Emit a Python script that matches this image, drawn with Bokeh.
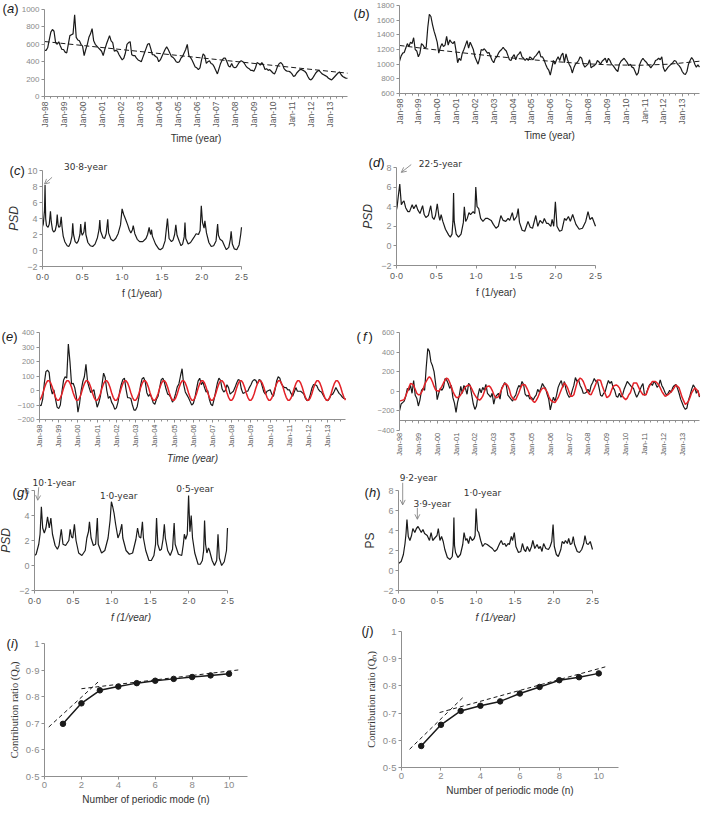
from math import pi
from bokeh.plotting import figure
from bokeh.layouts import column, row
from bokeh.models import Range1d, FixedTicker, Label, Arrow, OpenHead
from bokeh.embed import file_html
from bokeh.resources import INLINE

# ---------------- data ----------------
months = list(range(192))
time_ticks = [0, 12, 24, 36, 48, 60, 72, 84, 96, 108, 120, 132, 144, 156, 168, 180]
time_labels = ["Jan-98", "Jan-99", "Jan-00", "Jan-01", "Jan-02", "Jan-03", "Jan-04", "Jan-05",
               "Jan-06", "Jan-07", "Jan-08", "Jan-09", "Jan-10", "Jan-11", "Jan-12", "Jan-13"]
time_minor = list(range(0, 192, 4))

a_vals = [530, 530, 560, 650, 740, 770, 750, 620, 600, 630, 580, 540,
          540, 510, 500, 600, 700, 710, 720, 940, 680, 650, 640, 600,
          580, 470, 540, 600, 680, 720, 780, 640, 600, 580, 560, 540,
          520, 470, 540, 600, 650, 700, 640, 620, 520, 530, 520, 480,
          450, 420, 440, 500, 600, 620, 630, 480, 470, 470, 440, 420,
          410, 400, 450, 500, 550, 600, 610, 550, 480, 480, 460, 450,
          400, 420, 460, 500, 540, 570, 540, 500, 460, 450, 430, 400,
          390, 400, 440, 460, 500, 540, 600, 470, 450, 420, 380, 340,
          330, 310, 330, 420, 490, 470, 380, 400, 410, 380, 370, 340,
          300, 260, 320, 380, 420, 440, 440, 400, 350, 340, 380, 340,
          330, 340, 370, 400, 410, 400, 380, 350, 330, 320, 300, 300,
          290, 330, 390, 380, 360, 390, 360, 310, 320, 300, 310, 290,
          270, 260, 300, 350, 380, 390, 370, 320, 300, 290, 290, 280,
          260, 230, 240, 270, 290, 310, 310, 300, 290, 270, 230, 200,
          190, 210, 240, 270, 290, 300, 280, 260, 250, 240, 230, 210,
          200, 190, 210, 230, 250, 270, 280, 250, 230, 220, 210, 210]
trend_a_x = [0, 191]
trend_a_y = [632, 268]

b_vals = [1040, 1110, 1150, 1160, 1220, 1280, 1240, 1300, 1280, 1360, 1200, 1180,
          1100, 1150, 1280, 1260, 1220, 1230, 1500, 1680, 1650, 1540, 1450, 1380,
          1300, 1150, 1230, 1280, 1240, 1260, 1380, 1260, 1330, 1300, 1280, 1310,
          1180, 1020, 1080, 1050, 1150, 1200, 1260, 1320, 1220, 1300, 1250, 1200,
          1100, 1050, 1000, 1080, 1200, 1190, 1210, 1180, 1150, 1160, 1100, 1050,
          1020, 1080, 1100, 1150, 1180, 1200, 1230, 1200, 1180, 1120, 1060, 1050,
          1100, 1130, 1060, 1120, 1140, 1170, 1100, 1080, 1050, 1080, 1050, 1100,
          1080, 1060, 1100, 1120, 1150, 1180, 1100, 1100, 1060, 1000, 950, 920,
          850, 950, 1050, 1000, 1060, 1100, 1050, 1120, 1150, 1020, 1140, 1060,
          1000, 960, 880, 950, 1000, 1020, 1050, 1100, 1080, 1000, 960, 980,
          1000, 1060, 950, 970, 980, 1000, 1050, 1030, 1000, 1040, 1060, 1080,
          1020, 1080, 1050, 1000, 980, 950, 920, 900, 1000, 1040, 1060, 1080,
          1050, 1020, 980, 1000, 960, 950, 900, 850, 880, 1000, 1050, 1080,
          1050, 1030, 1000, 980, 950, 980, 1000, 1050, 1060, 1080, 1060, 1100,
          950, 900, 930, 960, 980, 1000, 1020, 1050, 1040, 1000, 980, 950,
          900, 870, 860, 900, 1000, 1050, 1090, 1060, 1000, 960, 990, 960]
trend_b_x = [0, 19, 38, 57, 76, 96, 115, 134, 153, 172, 191]
trend_b_y = [1255, 1205, 1160, 1115, 1075, 1040, 1010, 990, 985, 1000, 1040]

c_pts = [(0.0, 3.0), (0.01, 3.3), (0.025, 5.0), (0.032, 8.2), (0.04, 4.0), (0.05, 3.1), (0.07, 2.9),
         (0.085, 3.3), (0.10, 4.9), (0.11, 3.6), (0.125, 2.6), (0.14, 2.3), (0.16, 2.5), (0.175, 3.2),
         (0.185, 4.5), (0.195, 3.3), (0.205, 2.9), (0.22, 3.0), (0.235, 4.2), (0.245, 3.0), (0.26, 1.8),
         (0.28, 1.1), (0.31, 0.6), (0.33, 0.5), (0.35, 0.9), (0.37, 1.8), (0.38, 3.4), (0.39, 2.0),
         (0.41, 1.1), (0.43, 0.9), (0.45, 1.2), (0.47, 2.0), (0.48, 3.3), (0.49, 2.2), (0.50, 1.9),
         (0.52, 2.3), (0.535, 3.6), (0.545, 2.0), (0.57, 1.0), (0.60, 0.6), (0.63, 0.5), (0.66, 0.8),
         (0.69, 1.6), (0.71, 2.6), (0.72, 3.8), (0.73, 2.4), (0.76, 1.6), (0.78, 1.5), (0.80, 2.1),
         (0.82, 3.9), (0.83, 2.2), (0.86, 1.4), (0.89, 1.2), (0.92, 1.5), (0.95, 2.1), (0.98, 3.2),
         (1.0, 5.2), (1.02, 4.5), (1.04, 4.0), (1.07, 3.2), (1.09, 2.6), (1.11, 2.2), (1.13, 2.6),
         (1.14, 3.1), (1.16, 2.1), (1.19, 1.4), (1.22, 1.1), (1.26, 1.1), (1.30, 1.5), (1.32, 2.0),
         (1.34, 2.9), (1.35, 2.3), (1.36, 2.0), (1.37, 2.6), (1.38, 1.8), (1.42, 0.8), (1.46, 0.2),
         (1.48, 0.1), (1.51, 0.3), (1.54, 1.2), (1.57, 4.0), (1.59, 1.5), (1.62, 1.1), (1.64, 1.3),
         (1.66, 2.0), (1.675, 3.2), (1.69, 1.9), (1.72, 1.1), (1.74, 0.6), (1.76, 0.8), (1.78, 1.7),
         (1.79, 3.5), (1.80, 1.5), (1.83, 0.8), (1.86, 1.0), (1.90, 1.6), (1.93, 2.1), (1.96, 2.0),
         (1.98, 2.5), (1.995, 5.6), (2.01, 3.5), (2.03, 2.8), (2.04, 3.7), (2.06, 2.2), (2.09, 1.0),
         (2.12, 0.5), (2.15, 0.6), (2.18, 1.2), (2.20, 3.3), (2.21, 1.9), (2.23, 1.4), (2.26, 1.2),
         (2.29, 0.5), (2.31, 0.1), (2.34, 0.4), (2.36, 1.4), (2.37, 2.4), (2.385, 0.8), (2.41, 0.2),
         (2.44, 0.1), (2.47, 0.7), (2.49, 2.0), (2.50, 2.9)]

d_pts = [(0.0, 3.7), (0.008, 4.0), (0.02, 4.9), (0.041, 6.3), (0.061, 4.2), (0.082, 4.5), (0.094, 4.6),
         (0.115, 3.9), (0.143, 3.5), (0.164, 3.5), (0.197, 4.2), (0.217, 3.8), (0.246, 4.2), (0.266, 3.7),
         (0.295, 3.3), (0.328, 4.1), (0.348, 3.2), (0.369, 2.9), (0.40, 3.1), (0.43, 4.1), (0.451, 2.9),
         (0.471, 2.7), (0.49, 3.1), (0.512, 4.3), (0.533, 3.0), (0.545, 2.6), (0.561, 3.2), (0.582, 2.5),
         (0.615, 1.7), (0.656, 1.1), (0.676, 0.9), (0.697, 1.2), (0.709, 2.5), (0.717, 5.4), (0.725, 2.5),
         (0.75, 1.2), (0.779, 0.9), (0.811, 1.2), (0.84, 2.4), (0.852, 4.0), (0.869, 2.5), (0.889, 2.8),
         (0.91, 3.4), (0.93, 3.2), (0.963, 3.5), (0.984, 3.3), (0.996, 6.0), (1.012, 4.0), (1.033, 3.8),
         (1.057, 2.8), (1.086, 2.5), (1.119, 2.8), (1.148, 2.8), (1.189, 2.6), (1.217, 2.2), (1.25, 1.8),
         (1.279, 2.0), (1.311, 3.1), (1.34, 2.6), (1.373, 2.5), (1.402, 2.8), (1.422, 2.6), (1.455, 3.4),
         (1.475, 2.6), (1.51, 3.0), (1.529, 3.8), (1.545, 2.4), (1.578, 1.6), (1.611, 1.5), (1.652, 2.5),
         (1.68, 1.9), (1.709, 1.8), (1.75, 3.1), (1.775, 2.0), (1.803, 2.6), (1.836, 2.3), (1.857, 2.8),
         (1.885, 2.3), (1.906, 2.3), (1.939, 2.0), (1.955, 2.7), (1.975, 2.0), (1.996, 4.5), (2.016, 2.0),
         (2.049, 1.5), (2.078, 1.6), (2.111, 2.8), (2.131, 2.6), (2.16, 3.0), (2.184, 2.5), (2.213, 3.2),
         (2.254, 2.2), (2.295, 1.7), (2.336, 1.8), (2.377, 2.5), (2.406, 3.5), (2.43, 2.7), (2.459, 2.9),
         (2.5, 2.0)]

e_black = [-100, -105, -60, 50, 130, 140, 125, 20, -25, 5, -60, -115,
           -125, -100, -10, 70, 95, 85, 320, 200, 45, 50, 20, -40,
           -150, -90, 0, 60, 95, 180, 60, 20, -15, -5, 5, -60,
           -115, -85, -40, 40, 120, 90, 0, -55, -40, -80, -100, -130,
           -120, -80, -10, 40, 75, 85, 10, -50, -50, -55, -100, -135,
           -135, -110, -50, 30, 80, 90, 60, -15, -40, -25, -50, -85,
           -95, -60, -40, 20, 75, 85, 55, 10, -25, -30, -50, -80,
           -60, -20, 25, 45, 100, 150, 40, -10, -30, -50, -75, -100,
           -90, -50, 10, 65, 85, 40, 60, 20, -10, 0, -60, -95,
           -105, -60, -5, 50, 85, 70, 10, -10, 0, 40, 20, -25,
           -15, -5, 20, 50, 75, 70, 10, -20, -15, -5, -5, 20,
           40, 65, 75, 70, 45, 75, 70, 30, -10, -25, -5, 0,
           5, -25, -40, 5, 65, 95, 85, 45, 30, 20, 20, 5,
           5, -20, -40, -10, 20, -5, -5, -5, -15, -25, -55, -70,
           -65, -30, 15, 40, 40, 35, 10, -5, -10, -30, -50, -65,
           -70, -55, -30, -25, -5, 20, 0, -20, -30, -45, -55, -55]
e_red = [-68, -52, -22, 15, 47, 67, 68, 52, 22, -15, -47, -67,
         -68, -52, -22, 15, 47, 67, 68, 52, 22, -15, -47, -67,
         -68, -52, -22, 15, 47, 67, 68, 52, 22, -15, -47, -67,
         -68, -52, -22, 15, 47, 67, 68, 52, 22, -15, -47, -67,
         -68, -52, -22, 15, 47, 67, 68, 52, 22, -15, -47, -67,
         -68, -52, -22, 15, 47, 67, 68, 52, 22, -15, -47, -67,
         -68, -52, -22, 15, 47, 67, 68, 52, 22, -15, -47, -67,
         -68, -52, -22, 15, 47, 67, 68, 52, 22, -15, -47, -67,
         -68, -52, -22, 15, 47, 67, 68, 52, 22, -15, -47, -67,
         -68, -52, -22, 15, 47, 67, 68, 52, 22, -15, -47, -67,
         -68, -52, -22, 15, 47, 67, 68, 52, 22, -15, -47, -67,
         -68, -52, -22, 15, 47, 67, 68, 52, 22, -15, -47, -67,
         -68, -52, -22, 15, 47, 67, 68, 52, 22, -15, -47, -67,
         -68, -52, -22, 15, 47, 67, 68, 52, 22, -15, -47, -67,
         -68, -52, -22, 15, 47, 67, 68, 52, 22, -15, -47, -67,
         -68, -52, -22, 15, 47, 67, 68, 52, 22, -15, -47, -67]

f_black = [-200, -130, -115, -100, -50, 30, 10, 60, -20, 110, -40, -70,
           -150, -90, 10, 30, 10, 240, 435, 410, 300, 260, 200, 80,
           -85, -20, 30, 10, 40, 130, 115, 80, 30, 60, -65, -120,
           -215, -110, -50, 50, -20, 60, 30, -30, 80, 60, -40, -130,
           -185, -150, -40, 30, -15, 40, 10, 70, -20, -40, -60, -20,
           -130, -60, -40, -20, -80, 30, 60, 90, 60, -40, -60, -80,
           -100, -60, -40, 20, 60, 40, 100, 70, -30, -50, -40, -80,
           -60, -90, -60, -40, 20, -10, 30, 80, 50, 30, -30, -80,
           -190, -120, -60, -100, -40, 40, 80, 110, 40, 100, 20, -30,
           -60, -50, 10, 60, 140, 100, 120, 60, 30, -20, -20, -10,
           20, -10, 60, 90, 130, 100, 110, 40, -40, -50, -20, 0,
           60, 110, 80, 100, 40, 10, -50, -60, -20, -60, -40, 20,
           60, 100, 80, 60, 40, 30, -20, -60, -30, 10, 50, 80,
           -40, -30, 20, 60, 80, 60, 100, 80, 40, 60, 115, 60,
           30, -10, -40, -20, 10, -10, 40, 60, 70, 30, -20, -80,
           -120, -160, -185, -170, -90, -40, 20, 65, 40, -20, 10, -60]
f_red = [-100, -95, -90, -85, -45, -5, 40, 80, 75, 60, 20, -20,
         -35, -35, -10, 20, 70, 100, 130, 150, 130, 95, 50, 15,
         5, 0, 25, 50, 85, 115, 135, 125, 90, 45, 0, -35,
         -60, -65, -55, -35, -5, 20, 45, 55, 65, 55, 25, -10,
         -40, -65, -80, -90, -75, -50, -5, 35, 50, 55, 40, 10,
         -30, -60, -65, -55, -20, 20, 55, 80, 75, 55, 15, -45,
         -70, -85, -85, -50, -15, 30, 65, 70, 65, 35, 0, -45,
         -80, -100, -115, -95, -65, -25, 10, 30, 35, 20, -5, -50,
         -85, -100, -110, -115, -90, -65, -25, 15, 55, 85, 65, 35,
         -10, -50, -50, -35, 25, 85, 115, 135, 125, 100, 60, 15,
         -10, -30, -35, 0, 35, 75, 115, 115, 110, 60, 15, -25,
         -65, -55, -35, 10, 50, 60, 65, 55, 35, -10, -50, -70,
         -85, -70, -35, -15, 35, 85, 85, 85, 50, 15, -10, -35,
         -35, -35, 10, 50, 75, 100, 100, 100, 85, 65, 35, 0,
         -25, -50, -45, -35, -20, -5, 15, 40, 65, 50, 35, -15,
         -65, -100, -135, -120, -100, -60, -15, 10, 35, 20, 0, -50]

g_pts = [(0.0, 0.8), (0.021, 0.9), (0.055, 1.7), (0.072, 2.5), (0.089, 4.7), (0.106, 3.0), (0.127, 2.6),
         (0.148, 3.0), (0.169, 3.9), (0.191, 3.0), (0.212, 3.8), (0.233, 2.5), (0.267, 1.6), (0.297, 1.3),
         (0.318, 1.6), (0.347, 2.9), (0.369, 1.7), (0.403, 1.6), (0.445, 2.0), (0.462, 2.9), (0.479, 2.3),
         (0.496, 2.2), (0.517, 3.3), (0.538, 2.0), (0.572, 1.0), (0.614, 0.8), (0.657, 1.2), (0.678, 2.2),
         (0.699, 2.7), (0.712, 3.5), (0.733, 2.2), (0.763, 1.6), (0.792, 1.7), (0.814, 3.8), (0.826, 1.7),
         (0.869, 1.0), (0.911, 1.2), (0.953, 2.2), (0.979, 3.6), (0.996, 5.1), (1.013, 4.7), (1.03, 4.2),
         (1.051, 3.3), (1.081, 2.2), (1.106, 2.6), (1.131, 3.3), (1.144, 2.2), (1.186, 1.2), (1.229, 0.9),
         (1.271, 1.0), (1.314, 2.1), (1.335, 3.0), (1.356, 2.3), (1.377, 2.2), (1.398, 3.5), (1.411, 2.2),
         (1.441, 1.2), (1.483, 0.4), (1.513, 0.4), (1.547, 0.8), (1.568, 1.7), (1.581, 3.8), (1.597, 1.7),
         (1.623, 1.2), (1.644, 1.3), (1.665, 2.1), (1.682, 3.3), (1.695, 2.2), (1.725, 1.2), (1.758, 0.8),
         (1.788, 1.3), (1.809, 3.4), (1.822, 1.7), (1.864, 0.9), (1.907, 0.8), (1.928, 1.7), (1.941, 2.5),
         (1.958, 2.1), (1.979, 2.5), (1.996, 5.6), (2.013, 2.7), (2.03, 4.0), (2.047, 2.2), (2.076, 1.0),
         (2.119, 0.1), (2.148, 0.1), (2.174, 0.4), (2.191, 1.2), (2.203, 3.6), (2.216, 1.7), (2.233, 1.0),
         (2.254, 1.4), (2.267, 1.2), (2.301, 0.4), (2.331, 0.0), (2.36, 0.4), (2.377, 2.5), (2.394, 0.6),
         (2.424, 0.0), (2.458, 0.3), (2.487, 1.2), (2.5, 3.0)]

h_pts = [(0.0, 0.7), (0.034, 0.9), (0.063, 1.6), (0.084, 2.7), (0.097, 3.7), (0.109, 5.1), (0.126, 3.4),
         (0.147, 3.0), (0.168, 3.5), (0.185, 4.2), (0.21, 3.8), (0.231, 4.2), (0.252, 4.4), (0.273, 4.1),
         (0.294, 3.8), (0.315, 4.1), (0.336, 3.7), (0.37, 3.5), (0.399, 3.0), (0.42, 3.8), (0.441, 3.0),
         (0.462, 3.2), (0.496, 3.5), (0.513, 4.2), (0.534, 3.0), (0.555, 3.4), (0.576, 2.9), (0.597, 2.1),
         (0.63, 1.3), (0.664, 1.1), (0.693, 1.4), (0.705, 2.5), (0.714, 5.3), (0.722, 2.5), (0.735, 1.8),
         (0.765, 1.3), (0.798, 1.6), (0.828, 2.6), (0.845, 3.8), (0.866, 3.0), (0.882, 3.2), (0.903, 2.7),
         (0.924, 3.4), (0.95, 3.0), (0.975, 3.2), (0.987, 3.5), (1.0, 6.2), (1.017, 4.0), (1.034, 3.8),
         (1.059, 3.0), (1.084, 2.4), (1.113, 2.7), (1.143, 2.6), (1.176, 2.4), (1.21, 2.2), (1.239, 1.9),
         (1.269, 2.1), (1.303, 2.7), (1.324, 3.0), (1.345, 2.6), (1.37, 2.7), (1.387, 2.4), (1.412, 2.7),
         (1.429, 2.6), (1.454, 3.4), (1.471, 3.0), (1.492, 3.8), (1.513, 2.4), (1.546, 1.8), (1.576, 1.9),
         (1.597, 2.7), (1.618, 2.1), (1.639, 1.9), (1.66, 2.4), (1.689, 1.9), (1.714, 2.4), (1.731, 3.0),
         (1.756, 2.2), (1.786, 2.6), (1.807, 2.2), (1.828, 2.4), (1.849, 1.9), (1.87, 2.7), (1.899, 2.2),
         (1.933, 2.1), (1.954, 2.4), (1.975, 2.9), (1.992, 4.6), (2.008, 2.4), (2.034, 1.6), (2.059, 1.4),
         (2.092, 2.1), (2.109, 2.9), (2.134, 2.7), (2.151, 3.0), (2.176, 2.7), (2.193, 3.2), (2.214, 2.6),
         (2.235, 2.7), (2.252, 3.4), (2.269, 2.6), (2.303, 1.9), (2.332, 1.8), (2.361, 2.1), (2.387, 2.7),
         (2.403, 3.5), (2.424, 2.7), (2.445, 2.6), (2.471, 2.9), (2.5, 2.1)]

psd_f_ticks = [0, 0.5, 1.0, 1.5, 2.0, 2.5]
psd_f_labels = ["0·0", "0·5", "1·0", "1·5", "2·0", "2·5"]

n_modes = [1, 2, 3, 4, 5, 6, 7, 8, 9, 10]
q_i = [0.698, 0.775, 0.824, 0.838, 0.851, 0.860, 0.867, 0.874, 0.880, 0.886]
q_j = [0.579, 0.657, 0.708, 0.727, 0.743, 0.772, 0.796, 0.821, 0.832, 0.846]
fit1_i_x, fit1_i_y = [0.23, 2.9], [0.686, 0.855]
fit2_i_x, fit2_i_y = [2.0, 10.56], [0.830, 0.901]
fit1_j_x, fit1_j_y = [0.41, 3.11], [0.567, 0.757]
fit2_j_x, fit2_j_y = [1.93, 10.33], [0.702, 0.870]
n_ticks = [0, 2, 4, 6, 8, 10]
q_ticks = [0.5, 0.6, 0.7, 0.8, 0.9, 1.0]
q_labels = ["0·5", "0·6", "0·7", "0·8", "0·9", "1"]

# ---------------- style helpers ----------------
AX = "#8f8f8f"
TXT = "#8a8a8a"
LBL = "#333333"
SANS = "Liberation Sans"
INK = "#1a1a1a"
RED = "#e32228"
PX = {}   # per-figure data units per pixel, used to place the panel tags


def make(w, h, L, R, T, B, xr, yr, x_axis_at=None):
    """Frame fills the whole figure; the data box sits L/R/T/B px inside it,
    axes are pinned to the data box so that nothing outside it gets clipped."""
    x0, x1 = xr
    y0, y1 = yr
    sx = (x1 - x0) / (w - L - R)
    sy = (y1 - y0) / (h - T - B)
    p = figure(width=w, height=h, output_backend="svg", toolbar_location=None,
               x_range=Range1d(x0 - L * sx, x1 + R * sx),
               y_range=Range1d(y0 - B * sy, y1 + T * sy),
               min_border=0)
    PX[p.id] = (x0, y1, sx, sy)
    p.outline_line_color = None
    p.xgrid.visible = False
    p.ygrid.visible = False
    p.xaxis.fixed_location = y0 if x_axis_at is None else x_axis_at
    p.xaxis.bounds = (x0, x1)
    p.yaxis.fixed_location = x0
    p.yaxis.bounds = (y0, y1)
    for ax in (p.xaxis[0], p.yaxis[0]):
        ax.axis_line_color = AX
        ax.major_tick_line_color = AX
        ax.minor_tick_line_color = None
        ax.major_tick_in = 0
        ax.major_tick_out = 3
        ax.major_label_text_font = SANS
        ax.major_label_text_color = TXT
        ax.major_label_text_font_size = "9px"
        ax.major_label_standoff = 2
        ax.axis_label_text_font = SANS
        ax.axis_label_text_color = LBL
        ax.axis_label_text_font_style = "normal"
        ax.axis_label_text_font_size = "10px"
        ax.axis_label_standoff = 3
    return p


def yticks(p, ticks, size="9px"):
    ax = p.yaxis[0]
    ax.ticker = FixedTicker(ticks=ticks)
    ax.major_label_overrides = {t: ("\u2212" + str(abs(t)) if t < 0 else str(t)) for t in ticks}
    ax.major_label_text_font_size = size


def time_axis(p, size):
    ax = p.xaxis[0]
    ax.ticker = FixedTicker(ticks=time_ticks, minor_ticks=time_minor)
    ax.major_label_overrides = dict(zip(time_ticks, time_labels))
    ax.major_label_orientation = pi / 2
    ax.minor_tick_line_color = AX
    ax.minor_tick_in = 0
    ax.minor_tick_out = 2
    ax.major_label_text_font_size = size
    ax.major_label_text_color = "#5a5a5a"


def psd_axis(p):
    ax = p.xaxis[0]
    ax.ticker = FixedTicker(ticks=psd_f_ticks)
    ax.major_label_overrides = dict(zip(psd_f_ticks, psd_f_labels))
    ax.major_label_text_color = "#5a5a5a"


LW = {"a": 7.2, "b": 7.2, "c": 6.5, "d": 7.2, "e": 7.2, "f": 3.6, "g": 7.2, "h": 7.2, "i": 2.9, "j": 3.2}


def tag(p, letter, dx, dy, pad=0.0):
    """Panel tag; dx/dy are pixel offsets of its left/middle from the data box's top-left (dy down)."""
    x0, y1, sx, sy = PX[p.id]
    parts = [("(", dx, "normal"), (letter, dx + 4.5 + pad, "italic"),
             (")", dx + 4.5 + 2 * pad + LW[letter], "normal")]
    for txt, off, style in parts:
        p.add_layout(Label(x=x0 + off * sx, y=y1 - dy * sy, text=txt, text_font=SANS,
                           text_font_size="13px", text_font_style=style,
                           text_baseline="middle", text_align="left", text_color=INK))


def note(p, x, y, text, align="left"):
    p.add_layout(Label(x=x, y=y, text=text, text_font="DejaVu Sans", text_font_size="9px",
                       text_color="#333333", text_align=align, text_baseline="middle"))


def arrow(p, x0, y0, x1, y1):
    p.add_layout(Arrow(end=OpenHead(size=5, line_color="#777777", line_width=0.8),
                       x_start=x0, y_start=y0, x_end=x1, y_end=y1,
                       line_color="#777777", line_width=0.8))


# ---------------- row 1 ----------------
pa = make(352, 147, 44, 5, 9, 51, (0, 191), (0, 1000))
pa.line(months, a_vals, color=INK, line_width=1.2)
pa.line(trend_a_x, trend_a_y, color=INK, line_width=1, line_dash="5 3")
time_axis(pa, "8.5px")
yticks(pa, [0, 200, 400, 600, 800, 1000], "8px")
pa.xaxis.axis_label = "Time (year)"
tag(pa, "a", -42, -1)

pb = make(352, 147, 47, 5, 5, 54, (0, 191), (600, 1800))
pb.line(months, b_vals, color=INK, line_width=1.2)
pb.line(trend_b_x, trend_b_y, color=INK, line_width=1, line_dash="5 3")
time_axis(pb, "8.5px")
yticks(pb, [600, 800, 1000, 1200, 1400, 1600, 1800], "8px")
pb.xaxis.axis_label = "Time (year)"
tag(pb, "b", -46, 8)

# ---------------- row 2 ----------------
pc = make(352, 157, 42, 111, 23, 38, (0, 2.5), (-2, 10))
pc.line([q[0] for q in c_pts], [q[1] for q in c_pts], color=INK, line_width=1.2)
psd_axis(pc)
yticks(pc, [-2, 0, 2, 4, 6, 8, 10])
pc.xaxis.axis_label = "f (1/year)"
pc.yaxis.axis_label = "PSD"
pc.yaxis.axis_label_text_font_style = "italic"
pc.yaxis.axis_label_text_font_size = "12px"
note(pc, 0.27, 10.4, "30·8-year")
arrow(pc, 0.12, 9.15, 0.025, 8.3)
tag(pc, "c", -33, 0)

pd_ = make(352, 157, 44, 109, 20, 39, (0, 2.5), (-2, 8))
pd_.line([q[0] for q in d_pts], [q[1] for q in d_pts], color=INK, line_width=1.2)
psd_axis(pd_)
yticks(pd_, [-2, 0, 2, 4, 6, 8])
pd_.xaxis.axis_label = "f (1/year)"
pd_.yaxis.axis_label = "PSD"
pd_.yaxis.axis_label_text_font_style = "italic"
pd_.yaxis.axis_label_text_font_size = "12px"
note(pd_, 0.28, 8.4, "22·5-year")
arrow(pd_, 0.185, 8.3, 0.06, 7.5)
tag(pd_, "d", -28, -5)

# ---------------- row 3 ----------------
pe = make(352, 165, 39, 7, 28, 50, (0, 191), (-200, 400))
pe.line(months, e_black, color=INK, line_width=1.2)
pe.line(months, e_red, color=RED, line_width=1.5)
time_axis(pe, "7.5px")
yticks(pe, [-200, -100, 0, 100, 200, 300, 400], "7.5px")
pe.xaxis.axis_label = "Time (year)"
pe.xaxis.axis_label_text_font_style = "italic"
tag(pe, "e", -38, 4)

pf = make(352, 165, 47, 5, 28, 39, (0, 191), (-400, 600), x_axis_at=-300)
pf.line(months, f_black, color=INK, line_width=1.2)
pf.line(months, f_red, color=RED, line_width=1.5)
time_axis(pf, "7.5px")
pf.xaxis.major_label_standoff = 9
yticks(pf, [-400, -200, 0, 200, 400, 600], "7.5px")
tag(pf, "f", -43, 4, pad=2.0)

# ---------------- row 4 ----------------
pg = make(352, 153, 34, 125, 21, 32, (0, 2.5), (-2, 6))
pg.line([q[0] for q in g_pts], [q[1] for q in g_pts], color=INK, line_width=1.2)
psd_axis(pg)
yticks(pg, [-2, 0, 2, 4, 6])
pg.xaxis.axis_label = "f (1/year)"
pg.xaxis.axis_label_text_font_style = "italic"
pg.yaxis.axis_label = "PSD"
pg.yaxis.axis_label_text_font_style = "italic"
pg.yaxis.axis_label_text_font_size = "12px"
note(pg, -0.025, 6.63, "10·1-year")
arrow(pg, 0.055, 6.26, 0.042, 5.22)
note(pg, 1.09, 5.6, "1·0-year", align="center")
note(pg, 2.08, 6.16, "0·5-year", align="center")
tag(pg, "g", -22, 2)

ph = make(352, 153, 46, 112, 21, 32, (0, 2.5), (-2, 8))
ph.line([q[0] for q in h_pts], [q[1] for q in h_pts], color=INK, line_width=1.2)
psd_axis(ph)
yticks(ph, [-2, 0, 2, 4, 6, 8])
ph.xaxis.axis_label = "f (1/year)"
ph.xaxis.axis_label_text_font_style = "italic"
ph.yaxis.axis_label = "PS"
ph.yaxis.axis_label_text_font_size = "12px"
note(ph, 0.016, 9.25, "9·2-year")
arrow(ph, 0.054, 8.77, 0.054, 6.56)
note(ph, 0.193, 6.65, "3·9-year")
arrow(ph, 0.243, 6.27, 0.243, 5.12)
note(ph, 0.84, 7.8, "1·0-year")
tag(ph, "h", -34, 2)


# ---------------- row 5 ----------------
def qfig(w, h, l, r, t, b, q, f1x, f1y, f2x, f2y, letter, dx, dy):
    p = make(w, h, l, r, t, b, (0, 11), (0.5, 1.0))
    p.line(f1x, f1y, color=INK, line_width=1, line_dash="4 3")
    p.line(f2x, f2y, color=INK, line_width=1, line_dash="4 3")
    p.line(n_modes, q, color=INK, line_width=1.5)
    p.scatter(n_modes, q, size=5.5, color=INK, marker="circle")
    p.xaxis.ticker = FixedTicker(ticks=n_ticks)
    p.yaxis.ticker = FixedTicker(ticks=q_ticks)
    p.yaxis.major_label_overrides = dict(zip(q_ticks, q_labels))
    for ax in (p.xaxis[0], p.yaxis[0]):
        ax.major_label_text_font_size = "9.5px"
    p.xaxis.axis_label = "Number of periodic mode (n)"
    p.yaxis.axis_label = "Contribution ratio (Q\u2099)"
    p.yaxis.axis_label_text_font = "Liberation Serif"
    p.yaxis.axis_label_text_font_size = "10.5px"
    tag(p, letter, dx, dy)
    return p


pi_ = qfig(352, 187, 44, 105, 21, 33, q_i, fit1_i_x, fit1_i_y, fit2_i_x, fit2_i_y, "i", -38, 0)
pj = qfig(352, 187, 49, 86, 9, 42, q_j, fit1_j_x, fit1_j_y, fit2_j_x, fit2_j_y, "j", -40, -1)

layout = column(row(pa, pb), row(pc, pd_), row(pe, pf), row(pg, ph), row(pi_, pj))
open("out.html", "w").write(file_html(layout, INLINE))
